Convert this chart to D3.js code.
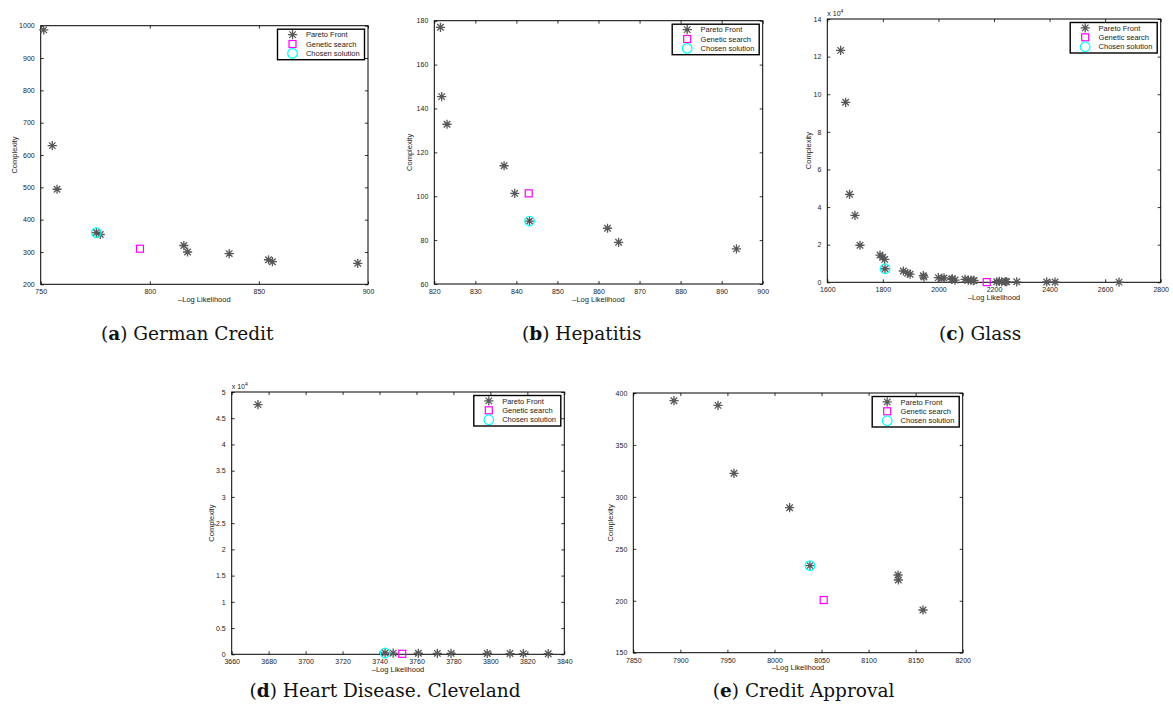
<!DOCTYPE html>
<html><head><meta charset="utf-8">
<script src="https://cdn.jsdelivr.net/npm/d3@7"></script>
<style>body{margin:0;background:#fff}svg{display:block}</style>
</head><body>
<svg id="chart" width="1173" height="716"></svg>
<script>
// ---------- data ----------
const seriesNames = ["Pareto Front", "Genetic search", "Chosen solution"];
const xAxisLabel = "\u2013Log Likelihood";
const yAxisLabel = "Complexity";

// (a) German Credit
const germanParetoX = [751.4, 755.3, 757.5, 775.5, 777.3, 815.6, 817.3, 836.4, 854.4, 856.2, 895.3];
const germanParetoY = [987, 629, 494, 360, 354, 320, 300, 295, 276, 270, 265];
const germanGenetic = [795.5, 310];
const germanChosen = [775.5, 360];
const germanXTicks = [750, 800, 850, 900];
const germanYTicks = [200, 300, 400, 500, 600, 700, 800, 900, 1000];

// (b) Hepatitis
const hepParetoX = [821.5, 821.8, 823.1, 837, 839.6, 843.2, 862.2, 864.9, 893.6];
const hepParetoY = [177, 145.4, 132.8, 113.9, 101.3, 88.7, 85.4, 79, 76];
const hepGenetic = [843, 101.3];
const hepChosen = [843.2, 88.7];
const hepXTicks = [820, 830, 840, 850, 860, 870, 880, 890, 900];
const hepYTicks = [60, 80, 100, 120, 140, 160, 180];

// (c) Glass
const glassParetoX = [1648, 1666, 1680, 1699.6, 1717.6, 1789.7, 1799.4, 1806.6, 1807.7, 1873.6, 1889.4, 1897.7, 1945.6, 1948, 1999.6, 2011.8, 2020, 2047.8, 2050, 2059.7, 2095.7, 2107.6, 2117, 2125.6, 2128, 2209.8, 2219, 2227.8, 2241, 2245.8, 2281.8, 2389.8, 2419.7, 2650];
const glassParetoY = [123300, 95700, 46800, 35600, 19700, 14500, 13300, 12200, 7200, 6000, 4800, 4300, 3500, 2800, 2500, 2100, 2300, 1600, 1900, 1200, 1600, 1200, 1200, 850, 1000, 300, 500, 300, 400, 300, 250, 200, 150, 100];
const glassGenetic = [2173.8, 100];
const glassChosen = [1807.7, 7200];
const glassXTicks = [1600, 1800, 2000, 2200, 2400, 2600, 2800];
const glassYTicks = [0, 20000, 40000, 60000, 80000, 100000, 120000, 140000];

// (d) Heart Disease. Cleveland
const heartParetoX = [3674.2, 3743.0, 3747.4, 3761.0, 3771.3, 3778.7, 3798.3, 3810.6, 3817.8, 3831.3];
const heartParetoY = [47600, 250, 230, 200, 180, 170, 150, 140, 130, 120];
const heartGenetic = [3752.3, 100];
const heartChosen = [3743.0, 250];
const heartXTicks = [3660, 3680, 3700, 3720, 3740, 3760, 3780, 3800, 3820, 3840];
const heartYTicks = [0, 5000, 10000, 15000, 20000, 25000, 30000, 35000, 40000, 45000, 50000];

// (e) Credit Approval
const creditParetoX = [7893.2, 7940, 7957, 8016.1, 8037.7, 8131.3, 8131.6, 8157.8];
const creditParetoY = [392.6, 388.1, 322.7, 289.6, 233.8, 224.8, 220, 191.1];
const creditGenetic = [8052.3, 200.7];
const creditChosen = [8037.7, 233.8];
const creditXTicks = [7850, 7900, 7950, 8000, 8050, 8100, 8150, 8200];
const creditYTicks = [150, 200, 250, 300, 350, 400];

const captionLetters = ["a", "b", "c", "d", "e"];
const captionTitles = ["German Credit", "Hepatitis", "Glass", "Heart Disease. Cleveland", "Credit Approval"];

// ---------- layout ----------
const panels = [
  {px: germanParetoX, py: germanParetoY, gen: germanGenetic, cho: germanChosen, xt: germanXTicks, yt: germanYTicks, exp: false,
   box: {x0: 40.7, x1: 368, y0: 25.7, y1: 284.3}, ylabX: 14, cap: {x: 101, y: 340}},
  {px: hepParetoX, py: hepParetoY, gen: hepGenetic, cho: hepChosen, xt: hepXTicks, yt: hepYTicks, exp: false,
   box: {x0: 434.3, x1: 762.7, y0: 20.7, y1: 284}, ylabX: 409.3, cap: {x: 522, y: 340}},
  {px: glassParetoX, py: glassParetoY, gen: glassGenetic, cho: glassChosen, xt: glassXTicks, yt: glassYTicks, exp: true,
   box: {x0: 827.3, x1: 1160.7, y0: 19, y1: 282.3}, ylabX: 808.3, cap: {x: 939, y: 340}},
  {px: heartParetoX, py: heartParetoY, gen: heartGenetic, cho: heartChosen, xt: heartXTicks, yt: heartYTicks, exp: true,
   box: {x0: 231.7, x1: 564.3, y0: 392, y1: 654.3}, ylabX: 211, cap: {x: 249.5, y: 697}},
  {px: creditParetoX, py: creditParetoY, gen: creditGenetic, cho: creditChosen, xt: creditXTicks, yt: creditYTicks, exp: false,
   box: {x0: 633.3, x1: 962.7, y0: 393, y1: 652.7}, ylabX: 610, cap: {x: 712.8, y: 697}}
];

const svg = d3.select("#chart");
const starColor = "#575757";
const tickFont = "Liberation Sans, Arial, sans-serif";

function starPath(r) {
  const d = r * Math.SQRT1_2;
  return `M${-r},0L${r},0M0,${-r}L0,${r}M${-d},${-d}L${d},${d}M${-d},${d}L${d},${-d}`;
}

panels.forEach((p, i) => {
  const b = p.box;
  const g = svg.append("g");
  const x = d3.scaleLinear().domain([p.xt[0], p.xt[p.xt.length - 1]]).range([b.x0, b.x1]);
  const y = d3.scaleLinear().domain([p.yt[0], p.yt[p.yt.length - 1]]).range([b.y1, b.y0]);
  const fmtY = p.exp ? (v => String(+(v / 10000).toFixed(1))) : (v => String(v));
  const tl = 3;

  // axes (bottom, left) with inward ticks
  const xa = g.append("g").attr("transform", `translate(0,${b.y1})`)
    .call(d3.axisBottom(x).tickValues(p.xt).tickSize(-tl).tickPadding(tl + 2).tickFormat(d3.format("d")));
  const ya = g.append("g").attr("transform", `translate(${b.x0},0)`)
    .call(d3.axisLeft(y).tickValues(p.yt).tickSize(-tl).tickPadding(tl + 3).tickFormat(fmtY));
  const xt2 = g.append("g").attr("transform", `translate(0,${b.y0})`)
    .call(d3.axisTop(x).tickValues(p.xt).tickSize(-tl).tickFormat(""));
  const yt2 = g.append("g").attr("transform", `translate(${b.x1},0)`)
    .call(d3.axisRight(y).tickValues(p.yt).tickSize(-tl).tickFormat(""));
  [xa, ya, xt2, yt2].forEach(a => {
    a.select(".domain").remove();
    a.selectAll("line").attr("stroke", "#000").attr("stroke-width", 0.8);
    a.selectAll("text").attr("font-family", tickFont).attr("font-size", 7).attr("fill", "#222");
  });

  g.append("rect").attr("x", b.x0).attr("y", b.y0).attr("width", b.x1 - b.x0).attr("height", b.y1 - b.y0)
    .attr("fill", "none").attr("stroke", "#000").attr("stroke-width", 1);

  if (p.exp) {
    const t = g.append("text").attr("x", b.x0).attr("y", b.y0 - 3)
      .attr("font-family", tickFont).attr("font-size", 7).attr("fill", "#222").text("x 10");
    t.append("tspan").attr("dy", -3).attr("font-size", 5).text("4");
  }

  // axis labels
  g.append("text").attr("x", (b.x0 + b.x1) / 2).attr("y", b.y1 + 17.5).attr("text-anchor", "middle")
    .attr("font-family", tickFont).attr("font-size", 7.5).attr("fill", "#222").text(xAxisLabel);
  g.append("text").attr("transform", `translate(${p.ylabX + 2.5},${(b.y0 + b.y1) / 2}) rotate(-90)`)
    .attr("text-anchor", "middle").attr("font-family", tickFont).attr("font-size", 7.5).attr("fill", "#222").text(yAxisLabel);

  // data marks
  const pts = p.px.map((v, k) => [v, p.py[k]]);
  g.append("g").selectAll("path").data(pts).join("path")
    .attr("transform", d => `translate(${x(d[0])},${y(d[1])})`)
    .attr("d", starPath(4.6)).attr("stroke", starColor).attr("stroke-width", 1.3).attr("fill", "none");
  const sq = 7;
  g.append("rect").datum(p.gen)
    .attr("x", d => x(d[0]) - sq / 2).attr("y", d => y(d[1]) - sq / 2).attr("width", sq).attr("height", sq)
    .attr("fill", "none").attr("stroke", "#ff00ff").attr("stroke-width", 1.2);
  g.append("circle").datum(p.cho)
    .attr("cx", d => x(d[0])).attr("cy", d => y(d[1])).attr("r", 4.8)
    .attr("fill", "none").attr("stroke", "#00ffff").attr("stroke-width", 1.2);

  // legend
  const lw = 87, lh = 30.5;
  const lx = b.x1 - 3.5 - lw, ly = b.y0 + 3.5;
  const lg = g.append("g").attr("transform", `translate(${lx},${ly})`);
  lg.append("rect").attr("width", lw).attr("height", lh).attr("fill", "#fff").attr("stroke", "#000").attr("stroke-width", 1.4);
  const rows = [5.4, 14.8, 24.2];
  lg.append("path").attr("transform", `translate(15,${rows[0]})`).attr("d", starPath(4.6))
    .attr("stroke", starColor).attr("stroke-width", 1.3).attr("fill", "none");
  lg.append("rect").attr("x", 15 - sq / 2).attr("y", rows[1] - sq / 2).attr("width", sq).attr("height", sq)
    .attr("fill", "none").attr("stroke", "#ff00ff").attr("stroke-width", 1.2);
  lg.append("circle").attr("cx", 15).attr("cy", rows[2]).attr("r", 4.8)
    .attr("fill", "none").attr("stroke", "#00ffff").attr("stroke-width", 1.2);
  seriesNames.forEach((n, k) => {
    lg.append("text").attr("x", 28.4).attr("y", rows[k]).attr("dy", "0.35em")
      .attr("font-family", tickFont).attr("font-size", 7.5).attr("fill", "#222").text(n);
  });

  // caption
  const c = svg.append("text").attr("x", p.cap.x).attr("y", p.cap.y)
    .attr("font-family", "DejaVu Serif, serif").attr("font-size", 18.5).attr("fill", "#111");
  c.append("tspan").text("(");
  c.append("tspan").attr("font-weight", "bold").text(captionLetters[i]);
  c.append("tspan").text(") " + captionTitles[i]);
});
</script>
</body></html>
